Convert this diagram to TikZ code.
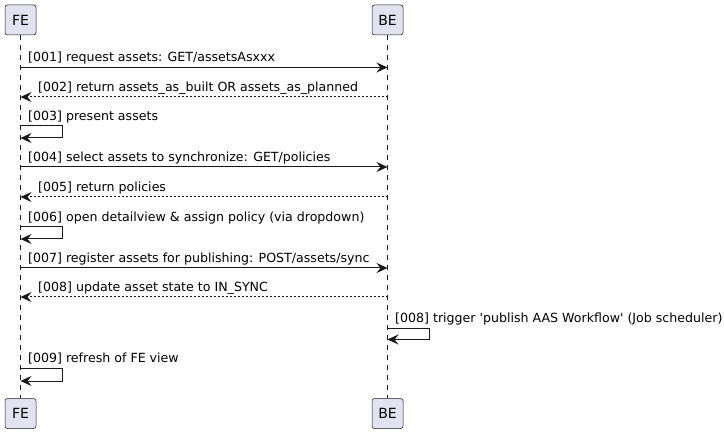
\documentclass[tikz,border=0pt]{standalone}
\usepackage{fontspec}
\setmainfont{DejaVu Sans}
\usetikzlibrary{arrows.meta}
\definecolor{partfill}{HTML}{E2E2F0}
\definecolor{umlline}{HTML}{181818}
\begin{document}
\begin{tikzpicture}[x=1pt,y=-1pt,
		participant/.style={draw=umlline, line width=0.5pt, fill=partfill, rounded corners=2.5pt,
			minimum width=31pt, minimum height=30pt, inner sep=0pt, font=\fontsize{14}{16}\selectfont},
		lifeline/.style={draw=umlline, line width=0.5pt, dash pattern=on 5pt off 5pt},
		msg/.style={draw=umlline, line width=1pt, -{Stealth[length=11pt,width=10pt,inset=4pt]}},
		reply/.style={msg, dash pattern=on 2pt off 2pt},
		msglabel/.style={anchor=base west, inner sep=0pt, font=\fontsize{12.6}{15}\selectfont}]
		\useasboundingbox (0,0) rectangle (724,433);
		% participants
		\node[participant] (fetop) at (20.5,20) {FE};
		\node[participant] (betop) at (387.5,20) {BE};
		\node[participant] (febot) at (20.5,413.5) {FE};
		\node[participant] (bebot) at (387.5,413.5) {BE};
		\draw[lifeline] (fetop) -- (febot);
		\draw[lifeline] (betop) -- (bebot);
		% end points on the lifelines
		\coordinate (fe1) at (20.5,67.5); \coordinate (be1) at (387.5,67.5);
		\coordinate (fe2) at (20.5,97); \coordinate (be2) at (387.5,97);
		\coordinate (fe3) at (20.5,126); \coordinate (fe3r) at (20.5,138);
		\coordinate (fe4) at (20.5,167); \coordinate (be4) at (387.5,167);
		\coordinate (fe5) at (20.5,197); \coordinate (be5) at (387.5,197);
		\coordinate (fe6) at (20.5,227); \coordinate (fe6r) at (20.5,239);
		\coordinate (fe7) at (20.5,268); \coordinate (be7) at (387.5,268);
		\coordinate (fe8) at (20.5,297); \coordinate (be8) at (387.5,297);
		\coordinate (be9) at (387.5,328); \coordinate (be9r) at (387.5,339.5);
		\coordinate (fe10) at (20.5,368.5); \coordinate (fe10r) at (20.5,381);
		% messages
		\draw[msg] (fe1) -- (be1);
		\node[msglabel] (l1) at (28,62) {[001] request assets: GET/assetsAsxxx};
		\draw[reply] (be2) -- (fe2);
		\node[msglabel] (l2) at (38,91.5) {[002] return assets\_as\_built OR assets\_as\_planned};
		\draw[msg] (fe3) -- ++(42,0) |- (fe3r);
		\node[msglabel] (l3) at (28,120.5) {[003] present assets};
		\draw[msg] (fe4) -- (be4);
		\node[msglabel] (l4) at (28,161.5) {[004] select assets to synchronize: GET/policies};
		\draw[reply] (be5) -- (fe5);
		\node[msglabel] (l5) at (38,191.5) {[005] return policies};
		\draw[msg] (fe6) -- ++(42,0) |- (fe6r);
		\node[msglabel] (l6) at (28,221.5) {[006] open detailview \& assign policy (via dropdown)};
		\draw[msg] (fe7) -- (be7);
		\node[msglabel] (l7) at (28,262.5) {[007] register assets for publishing: POST/assets/sync};
		\draw[reply] (be8) -- (fe8);
		\node[msglabel] (l8) at (38,291.5) {[008] update asset state to IN\_SYNC};
		\draw[msg] (be9) -- ++(42,0) |- (be9r);
		\node[msglabel] (l9) at (395,322.5) {[008] trigger \textquotesingle publish AAS Workflow\textquotesingle{} (Job scheduler)};
		\draw[msg] (fe10) -- ++(42,0) |- (fe10r);
		\node[msglabel] (l10) at (28,362.5) {[009] refresh of FE view};
	\end{tikzpicture}
\end{document}
